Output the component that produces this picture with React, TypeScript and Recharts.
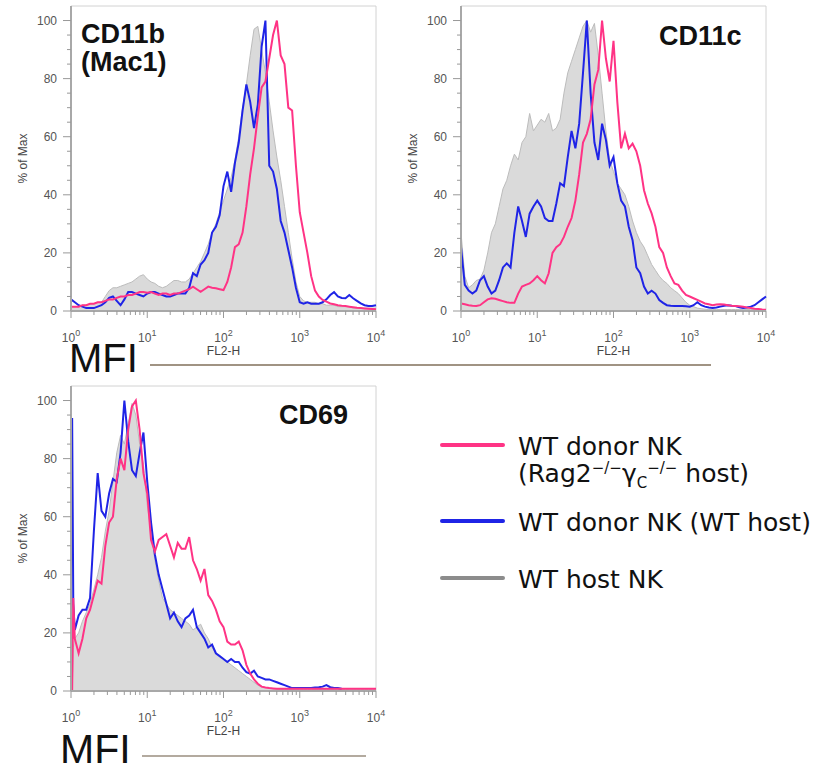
import React from 'react';
import { ComposedChart, Area, Line, XAxis, YAxis, ReferenceArea, Legend } from 'recharts';

// log10(FL2-H) channels, 0.05 decade apart
const channels = [
  0, 0.05, 0.1, 0.15, 0.2, 0.25, 0.3, 0.35, 0.4, 0.45, 0.5, 0.55, 0.6, 0.65, 0.7, 0.75, 0.8, 0.85, 0.9, 0.95,
  1, 1.05, 1.1, 1.15, 1.2, 1.25, 1.3, 1.35, 1.4, 1.45, 1.5, 1.55, 1.6, 1.65, 1.7, 1.75, 1.8, 1.85, 1.9, 1.95,
  2, 2.05, 2.1, 2.15, 2.2, 2.25, 2.3, 2.35, 2.4, 2.45, 2.5, 2.55, 2.6, 2.65, 2.7, 2.75, 2.8, 2.85, 2.9, 2.95,
  3, 3.05, 3.1, 3.15, 3.2, 3.25, 3.3, 3.35, 3.4, 3.45, 3.5, 3.55, 3.6, 3.65, 3.7, 3.75, 3.8, 3.85, 3.9, 3.95,
  4,
];

const channelsCd69 = [
  0.015, 0.03, 0.05, 0.1, 0.15, 0.2, 0.25, 0.3, 0.35, 0.4, 0.45, 0.5, 0.55, 0.6, 0.65, 0.7, 0.75, 0.8, 0.85, 0.9, 0.95,
  1, 1.05, 1.1, 1.15, 1.2, 1.25, 1.3, 1.35, 1.4, 1.45, 1.5, 1.55, 1.6, 1.65, 1.7, 1.75, 1.8, 1.85, 1.9, 1.95,
  2, 2.05, 2.1, 2.15, 2.2, 2.25, 2.3, 2.35, 2.4, 2.45, 2.5, 2.55, 2.6, 2.65, 2.7, 2.75, 2.8, 2.85, 2.9, 2.95,
  3, 3.05, 3.1, 3.15, 3.2, 3.25, 3.3, 3.35, 3.4, 3.45, 3.5, 3.55, 3.6, 3.65, 3.7, 3.75, 3.8, 3.85, 3.9, 3.95,
  4,
];

// CD11b (Mac1), % of max
const cd11bHost = [
  1.5, 1.5, 1.5, 2, 2, 2.5, 2.5, 3, 3, 5, 7, 8, 8, 8.5, 9, 9.5, 10, 11, 12, 12.5,
  11, 10, 9.5, 8.5, 8, 8.5, 9.5, 10.5, 10.5, 10, 10, 11, 13, 15, 17, 20, 23, 27, 30, 34,
  38, 42, 46, 52, 60, 70, 78, 88, 97, 98, 90, 82, 72, 62, 53, 45, 36, 27, 18, 10,
  5, 3.5, 3, 3, 3, 2.5, 2.5, 2, 2, 2, 1.5, 1.5, 1.5, 1.5, 1, 1, 1, 1, 1, 1,
  1,
];
const cd11bWt = [
  4, 3, 2, 1.5, 1, 1, 1, 1.5, 2, 3, 4.5, 5, 3.5, 2, 4, 6.5, 6.5, 6, 5.5, 5,
  6, 6.5, 6.5, 6, 5.5, 5, 5, 5.5, 6, 6, 6, 8, 13, 12, 16, 17.5, 20, 27, 29, 33,
  43, 48, 41, 51, 58, 69, 78, 72, 63, 71, 91, 100, 50, 48, 42, 31, 27, 21, 15, 8,
  3, 2.5, 3, 2.5, 2.5, 2.5, 3, 4, 5.5, 6.5, 5, 4.5, 4.4, 5.5, 4.4, 3.5, 2.6, 2, 1.7, 1.7,
  2,
];
const cd11bRag = [
  1.5, 1.5, 1.5, 2, 2, 2.5, 2.5, 3, 3, 3.5, 4, 4, 4.5, 5, 5, 5.5, 5.5, 6, 6.5, 6.5,
  6.3, 6.5, 6, 5.5, 6, 6, 5.5, 6, 6, 6.5, 7, 7.5, 8.4, 7.5, 6.6, 7.5, 8.4, 8, 7.8, 7.5,
  7.2, 10, 15, 22, 23, 27, 36, 47, 56, 67, 77, 79, 87, 95, 100, 88, 85, 70, 69, 50,
  34, 27, 20, 12, 7, 5, 3.8, 3.2, 2.6, 2.3, 2, 1.8, 1.7, 1.5, 1.3, 1.1, 1, 0.9, 0.8, 0.7,
  0.6,
];

// CD11c
const cd11cHost = [
  27, 12, 8, 9, 10.5, 11, 14, 20, 27, 30, 36, 42, 45, 50, 54, 52, 58, 60, 68, 62,
  64, 66, 65, 68, 62, 63, 66, 75, 82, 86, 90, 94, 98, 100, 96, 99, 88, 75, 62, 52,
  48, 44, 42, 40, 36, 31, 27, 24, 22, 19, 16, 14, 12, 10.5, 9.5, 8, 7, 6, 4.5, 3,
  2, 1.5, 1, 0.8, 0.6, 0.5, 0.5, 0.5, 0.5, 0.5, 0.5, 0.5, 0.5, 0.5, 0.5, 0.5, 0.5, 0.5, 0.5, 0.5,
  0.5,
];
const cd11cWt = [
  22, 9, 7, 6, 7, 10.6, 12, 8.4, 6, 7, 10.6, 15, 16.4, 15, 27, 36, 31, 25.5, 33.5, 36,
  38, 36, 32, 31, 31, 37, 44, 43, 53, 62, 56, 64.5, 82, 100, 75, 58, 52, 64.5, 59, 50,
  53, 44, 38, 36, 29, 24.4, 15, 13, 8.4, 6, 7, 6, 3.8, 2.8, 2, 1.8, 1.7, 1.7, 1.7, 1.6,
  1.5, 2, 3, 2, 1.5, 1.2, 1, 1.2, 1.5, 1.8, 2, 1.8, 1.7, 1.3, 1, 1.2, 1.5, 2, 3, 4,
  5,
];
const cd11cRag = [
  2.6, 2.3, 2, 1.8, 1.7, 2, 3, 4, 4.4, 4.2, 3.8, 3.4, 3, 2.8, 2.8, 6, 8.4, 9, 9.5, 10.6,
  12, 10.6, 9.5, 13, 20, 22, 23, 25.5, 29, 32, 38, 47, 58, 61, 66, 78, 83, 100, 87, 79,
  93, 72, 56, 61, 56, 57.6, 55, 50, 41.6, 37, 33.6, 29, 22, 20, 15, 12, 9.5, 9, 7, 5.5,
  5, 4.4, 3.8, 3.2, 2.6, 2.3, 2, 2.2, 2.3, 2.2, 2, 1.8, 1.7, 1.6, 1.5, 1.2, 1, 0.8, 0.7, 0.5,
  0.4,
];

// CD69
const cd69Host = [
  0, 15, 18, 20, 24, 27, 30, 35, 40, 46, 55, 62, 72, 82, 88, 85, 92, 99, 95, 85, 78,
  64, 55, 45, 38, 32, 30, 28, 27, 26, 25, 24, 23, 21, 22, 23, 20, 18, 15, 13, 12,
  11, 10, 9, 8, 7, 6, 5, 4, 3, 2, 1.5, 1.2, 1, 0.8, 0.6, 0.5, 0.5, 0.5, 0.5, 0.5,
  0.5, 0.5, 0.5, 0.5, 0.5, 0.5, 0.5, 0.5, 0.5, 0.5, 0.5, 0.5, 0.5, 0.5, 0.5, 0.5, 0.5, 0.5, 0.5, 0.5,
  0.5,
];
const cd69Wt = [
  94, 30, 21, 26, 28, 28, 32, 55, 75, 62, 60, 68, 73, 72, 82, 100, 86, 76, 74, 82, 89,
  72, 58, 47, 40, 35, 30, 25, 27, 24, 22, 25, 26, 28, 22, 20, 18, 15, 16, 13, 12,
  11, 10, 11, 10, 10, 8, 6.5, 6, 7, 5, 4.5, 4, 4, 3.5, 3, 2.5, 2, 1.5, 1, 1,
  1, 1, 1, 1, 1.2, 1.3, 1.5, 2, 1.3, 1, 1, 0.8, null, null, null, null, null, null, null, null,
  null,
];
const cd69Rag = [
  0, 32, 18, 13, 18, 25, 28, 33, 38, 37, 50, 58, 60, 73, 80, 76, 90, 98, 100, 90, 75,
  68, 52, 48, 52, 53, 54, 50, 46, 51, 49, 49, 53, 45, 42, 38, 42, 33, 31, 28, 24,
  22, 17, 16, 16, 17, 14, 9, 6, 4, 2.5, 1.5, 1.2, 1, 0.9, 0.8, 0.8, 0.8, 0.8, 0.8, 0.8,
  0.8, 0.8, 0.8, 0.8, 0.8, 0.8, 0.8, 0.8, 0.8, 0.8, 0.8, 0.8, 0.8, 0.8, 0.8, 0.8, 0.8, 0.8, 0.8, 0.8,
  0.8,
];

const decades = [0, 1, 2, 3, 4];
const xTicks = [0, 1, 2, 3].flatMap((d) => [0, ...[2, 3, 4, 5, 6, 7, 8, 9].map((m) => Math.log10(m))].map((o) => d + o)).concat([4]);
const yTicks = [0, 5, 10, 15, 20, 25, 30, 35, 40, 45, 50, 55, 60, 65, 70, 75, 80, 85, 90, 95, 100];

const PINK = '#ff3385';
const BLUE = '#1f24e6';
const GRAY_FILL = '#dadada';
const GRAY_EDGE = '#bcbcbc';
const AXIS = '#a8a8a8';
const SANS = '"Liberation Sans", Arial, sans-serif';

const names: Record<string, string> = {
  rag: 'WT donor NK (Rag2-/-γc-/- host)',
  wt: 'WT donor NK (WT host)',
  host: 'WT host NK',
};

const LogTick = (props: any) => {
  const { x, y, payload } = props;
  const v = payload.value;
  const major = decades.some((d) => Math.abs(d - v) < 1e-6);
  return (
    <g>
      <line x1={x} x2={x} y1={y} y2={y + (major ? 7 : 4)} stroke="#999" />
      {major && (
        <text x={x} y={y + 31} textAnchor="middle" fontSize={12} fill="#555" fontFamily={SANS}>
          10<tspan dy={-6} fontSize={9}>{Math.round(v)}</tspan>
        </text>
      )}
    </g>
  );
};

const PctTick = (props: any) => {
  const { x, y, payload } = props;
  const v = payload.value;
  const major = v % 20 === 0;
  return (
    <g>
      <line x1={x - (major ? 8 : 4)} x2={x} y1={y} y2={y} stroke="#999" />
      {major && (
        <text x={x - 14} y={y} dy={4} textAnchor="end" fontSize={12} fill="#555" fontFamily={SANS}>
          {v}
        </text>
      )}
    </g>
  );
};

const legendLabel = (key: string) => {
  if (key === 'rag') {
    const sup = { fontSize: 15, position: 'relative' as const, top: -9 };
    return (
      <>
        <div>WT donor NK</div>
        <div>
          (Rag2<span style={sup}>−/−</span>γ
          <span style={{ fontSize: 15, position: 'relative', top: 6 }}>C</span>
          <span style={sup}>−/−</span> host)
        </div>
      </>
    );
  }
  return <div>{names[key]}</div>;
};

const legendRows = [
  { key: 'rag', top: 0, color: PINK },
  { key: 'wt', top: 76, color: BLUE },
  { key: 'host', top: 133, color: '#8c8c8c' },
];

const renderLegend = (props: any) => {
  const keys = (props.payload || []).map((p: any) => p.dataKey);
  return (
    <div style={{ position: 'relative', width: 380, height: 170, fontFamily: '"DejaVu Sans", sans-serif', fontSize: 25, lineHeight: '27px', color: '#111' }}>
      {legendRows
        .filter((r) => keys.includes(r.key))
        .map((r) => (
          <div key={r.key} style={{ position: 'absolute', left: 0, top: r.top, width: 380 }}>
            <div style={{ position: 'absolute', left: 0, top: 10, width: 65, height: 4, background: r.color, borderRadius: 2 }} />
            <div style={{ position: 'absolute', left: 78, top: 0, whiteSpace: 'nowrap' }}>{legendLabel(r.key)}</div>
          </div>
        ))}
    </div>
  );
};

interface PanelProps {
  xs: number[];
  host: (number | null)[];
  wt: (number | null)[];
  rag: (number | null)[];
  width: number;
  rightMargin: number;
  withLegend?: boolean;
}

const Panel: React.FC<PanelProps> = ({ xs, host, wt, rag, width, rightMargin, withLegend }) => {
  const rows = xs.map((x, i) => ({ x, host: host[i], wt: wt[i], rag: rag[i] }));
  return (
    <ComposedChart width={width} height={361} data={rows} margin={{ top: 6, right: rightMargin, bottom: 0, left: 0 }}>
      <ReferenceArea x1={0} x2={4} y1={0} y2={105} fill="none" stroke="#d2d2d2" ifOverflow="visible" />
      <XAxis
        type="number"
        dataKey="x"
        domain={[0, 4]}
        ticks={xTicks}
        interval={0}
        tick={<LogTick />}
        tickLine={false}
        tickSize={0}
        tickMargin={0}
        height={50}
        axisLine={{ stroke: AXIS, strokeWidth: 2 }}
        label={{ value: 'FL2-H', position: 'center', dy: 15, fontSize: 12, fill: '#444', fontFamily: SANS }}
      />
      <YAxis
        type="number"
        domain={[0, 105]}
        ticks={yTicks}
        interval={0}
        tick={<PctTick />}
        tickLine={false}
        tickSize={0}
        tickMargin={0}
        width={71}
        axisLine={{ stroke: AXIS, strokeWidth: 2 }}
        label={{ value: '% of Max', angle: -90, position: 'center', dx: -13, fontSize: 12, fill: '#444', fontFamily: SANS }}
      />
      <Area
        name={names.host}
        dataKey="host"
        type="linear"
        fill={GRAY_FILL}
        fillOpacity={1}
        stroke={GRAY_EDGE}
        strokeWidth={1}
        isAnimationActive={false}
      />
      <Line name={names.wt} dataKey="wt" type="linear" stroke={BLUE} strokeWidth={2} dot={false} isAnimationActive={false} />
      <Line name={names.rag} dataKey="rag" type="linear" stroke={PINK} strokeWidth={2} dot={false} isAnimationActive={false} />
      {withLegend && (
        <Legend
          layout="vertical"
          align="center"
          verticalAlign="middle"
          content={renderLegend}
          wrapperStyle={{ left: 440, top: 53, width: 380 }}
        />
      )}
    </ComposedChart>
  );
};

const abs = (left: number, top: number): React.CSSProperties => ({ position: 'absolute', left, top });
const title: React.CSSProperties = { fontSize: 27, fontWeight: 'bold', lineHeight: '28px', color: '#111' };

export default function App() {
  return (
    <div style={{ position: 'absolute', left: 0, top: 0, width: 822, height: 770, background: '#fff', overflow: 'hidden', fontFamily: SANS }}>
      <div style={abs(0, 0)}>
        <Panel xs={channels} host={cd11bHost} wt={cd11bWt} rag={cd11bRag} width={390} rightMargin={14} />
      </div>
      <div style={abs(390, 0)}>
        <Panel xs={channels} host={cd11cHost} wt={cd11cWt} rag={cd11cRag} width={400} rightMargin={24} />
      </div>
      <div style={abs(0, 380)}>
        <Panel xs={channelsCd69} host={cd69Host} wt={cd69Wt} rag={cd69Rag} width={822} rightMargin={446} withLegend />
      </div>

      <div style={{ ...abs(81, 20), ...title }}>
        CD11b
        <br />
        (Mac1)
      </div>
      <div style={{ ...abs(659, 22), ...title }}>CD11c</div>
      <div style={{ ...abs(279, 401), ...title }}>CD69</div>

      <div style={{ ...abs(69, 343), fontSize: 40, lineHeight: '30px', color: '#111' }}>MFI</div>
      <div style={{ ...abs(150, 364), width: 561, height: 2, background: '#a09383' }} />
      <div style={{ ...abs(60, 734), fontSize: 41, lineHeight: '30px', color: '#111' }}>MFI</div>
      <div style={{ ...abs(142, 755), width: 224, height: 2, background: '#b3aa9f' }} />
    </div>
  );
}
